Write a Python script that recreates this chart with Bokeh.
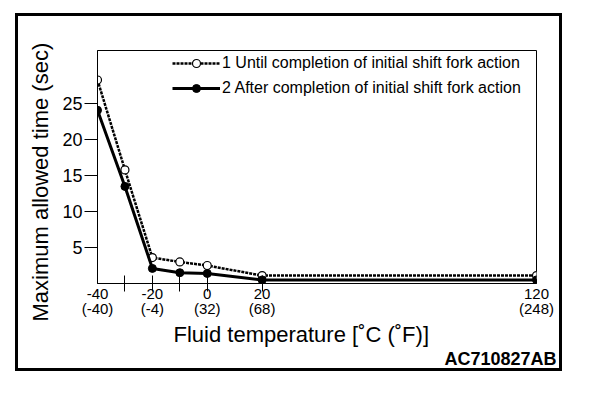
from bokeh.plotting import figure
from bokeh.models import Range1d, FixedTicker, Legend, LegendItem, Title
from bokeh.embed import file_html
from bokeh.resources import INLINE

# ---- data ----
temps_c = [-40, -30, -20, -10, 0, 20, 120]
until_completion = [28.3, 15.8, 3.6, 3.0, 2.5, 1.1, 1.1]
after_completion = [24.1, 13.5, 2.1, 1.5, 1.4, 0.5, 0.5]

tick_c = [-40, -20, 0, 20, 120]
tick_f = [-40, -4, 32, 68, 248]
minor_c = [-30, -20, -10, 0, 20]
y_ticks = [5, 10, 15, 20, 25]

series_names = ["1 Until completion of initial shift fork action",
                "2 After completion of initial shift fork action"]
x_title = "Fluid temperature [˚C (˚F)]"
y_title = "Maximum allowed time (sec)"
fig_code = "AC710827AB"

FONT = "Liberation Sans"

p = figure(width=541, height=352, output_backend="svg", toolbar_location=None,
           x_range=Range1d(-40, 120), y_range=Range1d(0, 32.4),
           min_border_left=78, min_border_right=23, min_border_top=34, min_border_bottom=85)
p.styles = {"margin-left": "18px", "margin-top": "16px", "outline": "3px solid black"}

p.grid.visible = False
p.outline_line_color = "black"
p.outline_line_width = 1
p.background_fill_color = "white"
p.border_fill_color = "white"

# x axis
xa = p.xaxis[0]
xa.ticker = FixedTicker(ticks=tick_c, minor_ticks=minor_c)
xa.major_label_overrides = {c: f"{c}\n({f})" for c, f in zip(tick_c, tick_f)}
xa.major_tick_line_color = None
xa.major_tick_in = 0
xa.major_tick_out = 0
xa.minor_tick_line_color = "black"
xa.minor_tick_in = 8
xa.minor_tick_out = 8
xa.minor_tick_line_width = 1
xa.major_label_standoff = -7
xa.major_label_text_font = FONT
xa.major_label_text_font_size = "15px"
xa.major_label_text_line_height = 0.9
xa.major_label_text_color = "black"
xa.axis_line_color = "black"

# y axis
ya = p.yaxis[0]
ya.ticker = FixedTicker(ticks=y_ticks)
ya.major_tick_in = 0
ya.major_tick_out = 13
ya.major_tick_line_color = "black"
ya.minor_tick_line_color = None
ya.major_label_standoff = 2
ya.major_label_text_font = FONT
ya.major_label_text_font_size = "18px"
ya.major_label_text_color = "black"
ya.axis_line_color = "black"

# series
l1 = p.line(temps_c, until_completion, line_color="black", line_width=2.5, line_dash="3 1")
m1 = p.scatter(temps_c, until_completion, marker="circle", size=8,
               fill_color="white", line_color="black", line_width=1.2)
l2 = p.line(temps_c, after_completion, line_color="black", line_width=3)
m2 = p.scatter(temps_c, after_completion, marker="circle", size=8,
               fill_color="black", line_color="black")

legend = Legend(items=[LegendItem(label=series_names[0], renderers=[l1, m1]),
                       LegendItem(label=series_names[1], renderers=[l2, m2])],
                location=(75, 185), border_line_color=None,
                background_fill_alpha=0, label_text_font=FONT,
                label_text_font_size="16px", label_text_color="black",
                glyph_width=48, glyph_height=20, label_height=20,
                label_standoff=2, spacing=5, padding=4, margin=0)
p.add_layout(legend)

# y-axis title (left of the tick labels)
p.add_layout(Title(text=y_title, align="left", offset=-38, standoff=14,
                   text_font=FONT, text_font_size="22px", text_font_style="normal",
                   text_color="black"), "left")

# x-axis title and figure code, stacked under the axis
p.add_layout(Title(text=x_title, align="left", offset=76, standoff=0,
                   text_font=FONT, text_font_size="22px", text_font_style="normal",
                   text_color="black"), "below")
p.add_layout(Title(text=fig_code, align="left", offset=347, standoff=0,
                   text_font=FONT, text_font_size="18px", text_font_style="bold",
                   text_color="black"), "below")

open("out.html", "w").write(file_html(p, INLINE))
